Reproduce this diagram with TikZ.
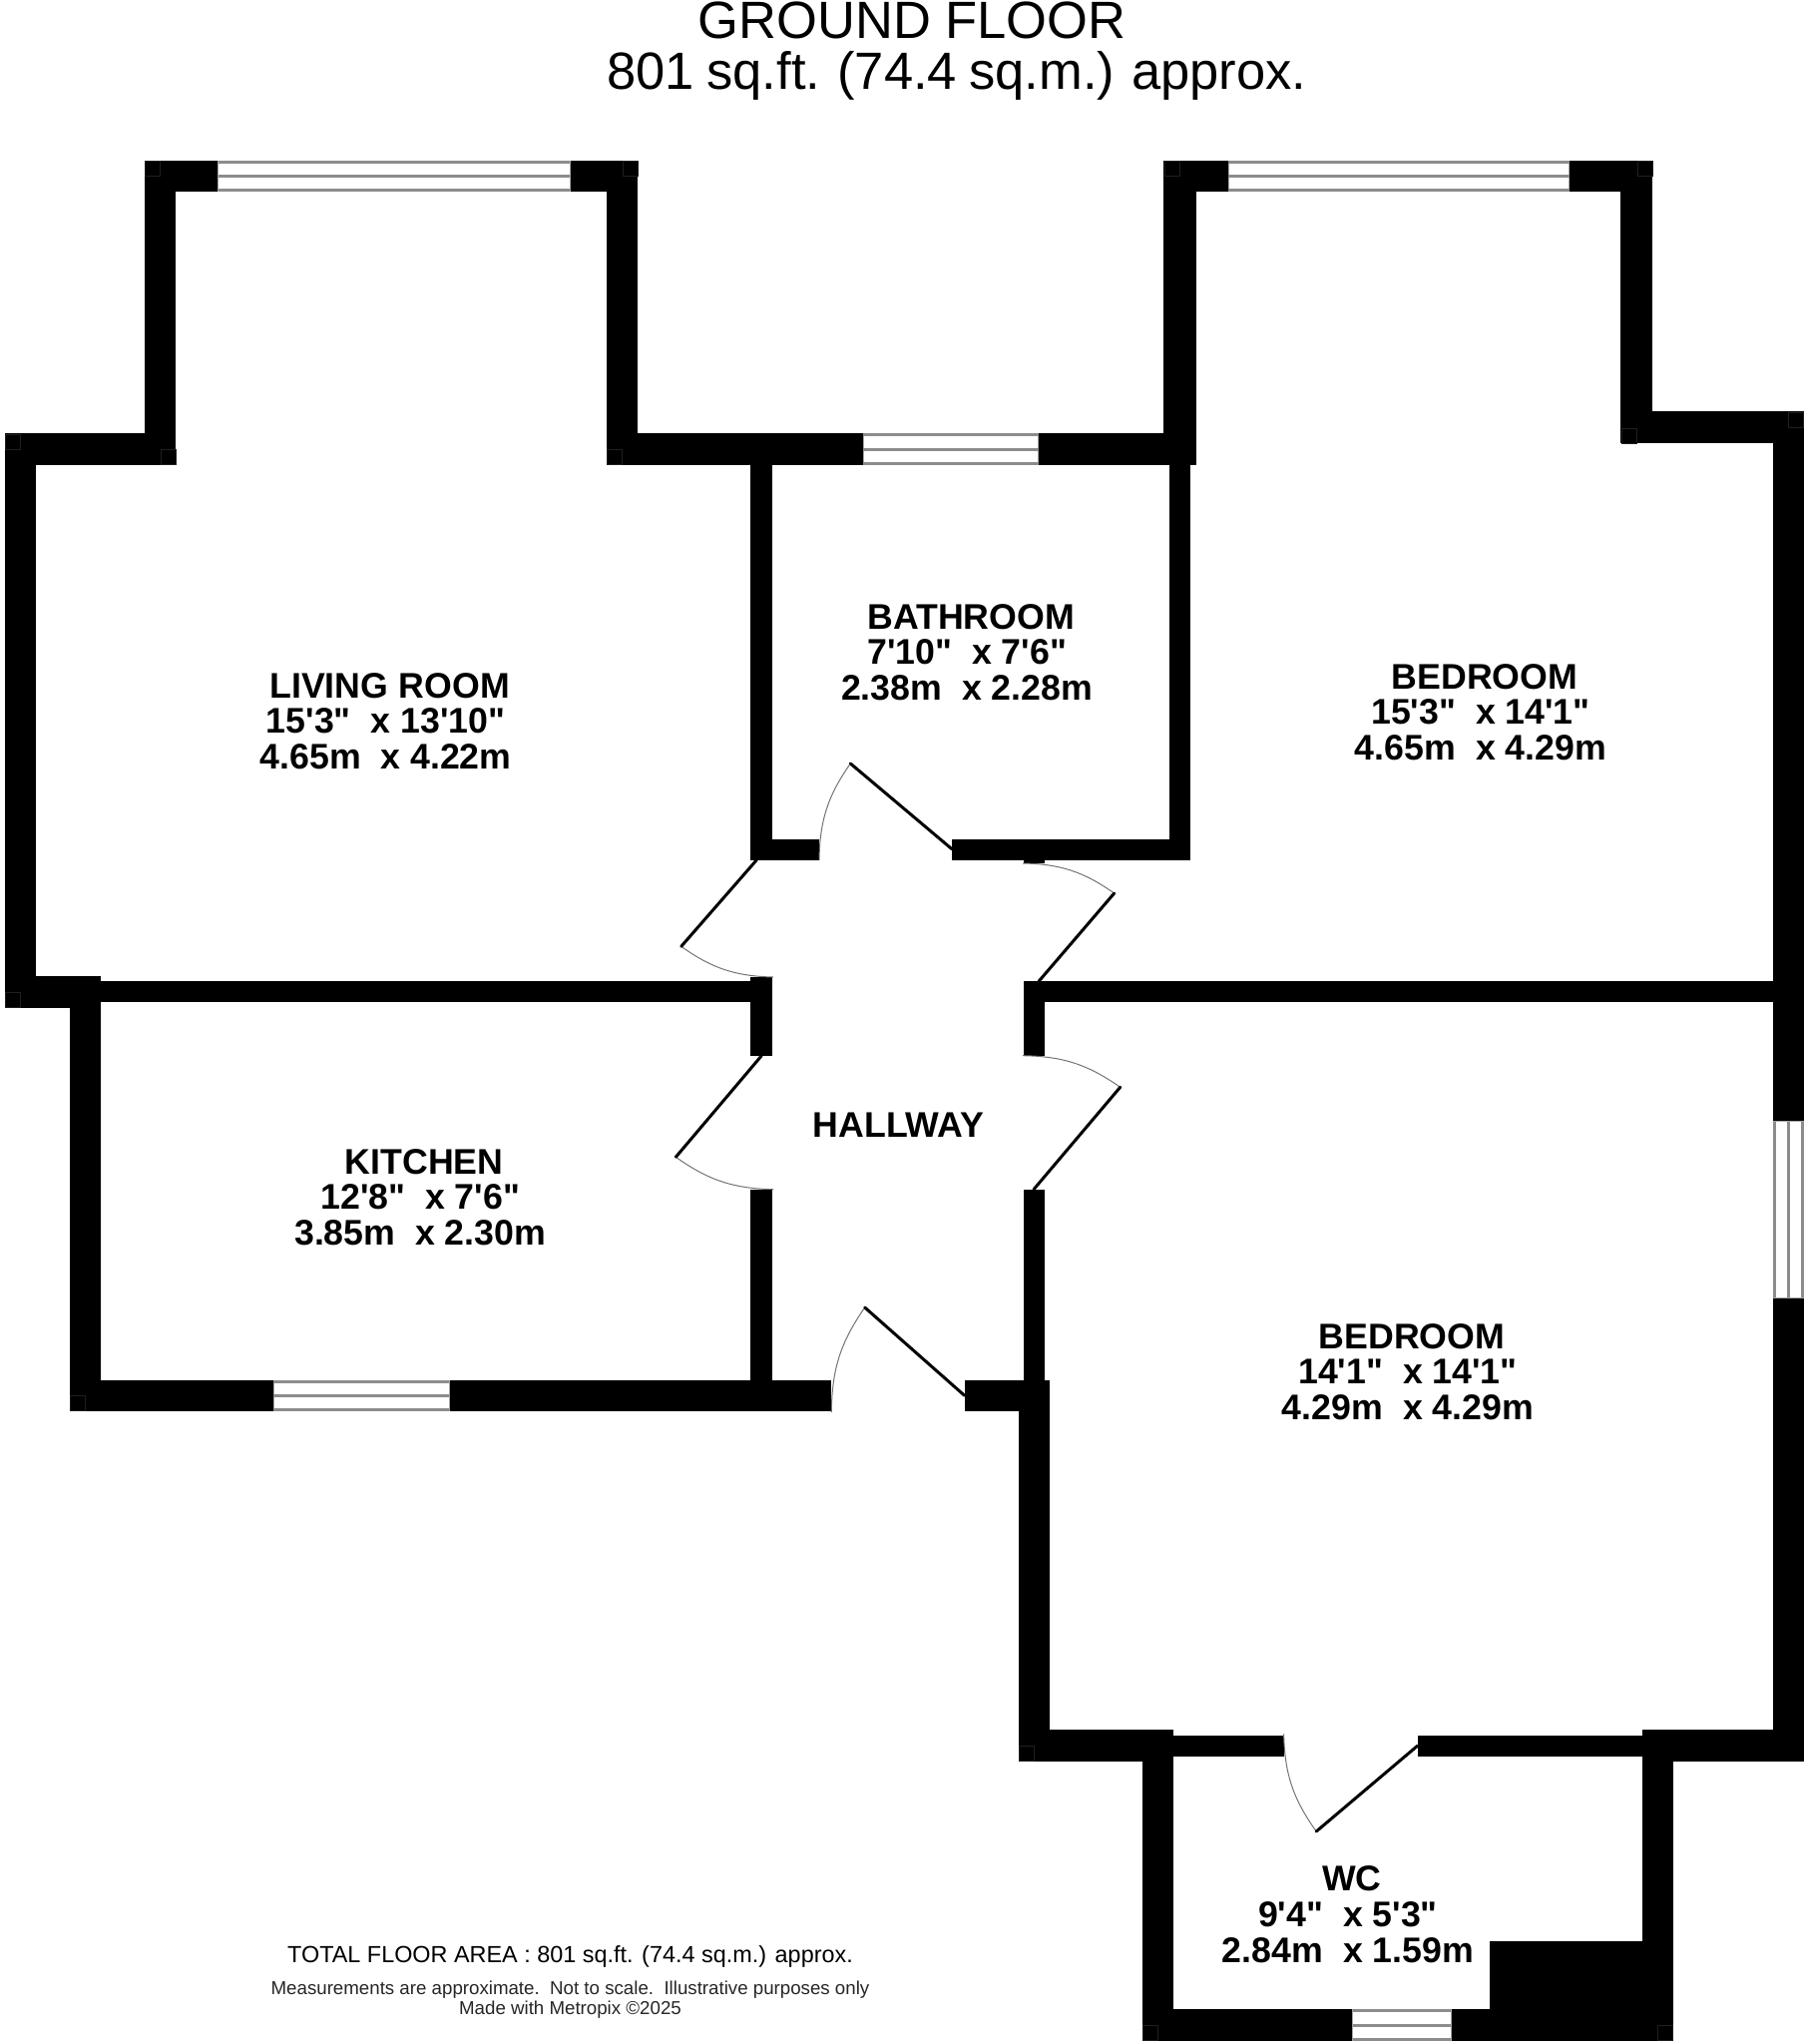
\documentclass[tikz,border=0pt]{standalone}
\usepackage{fontspec}
\newfontfamily\planfont{Liberation Sans}
\newcommand{\roomtext}[3]{\spaceskip=.29em\hspace*{8pt}#1\\[-1.3pt]#2\\#3}
\tikzset{
 wall/.style={fill=black},
 cornermark/.style={draw=black!88, line width=.6pt},
 glass/.style={draw=black!45, line width=3pt},
 glassend/.style={draw=black!35, line width=1pt},
 leaf/.style={draw=black, line width=3pt, line cap=round},
 swing/.style={draw=black!55, line width=1pt},
 roomlabel/.style={font=\planfont\bfseries\fontsize{35.7}{36.5}\selectfont, align=center, inner sep=0pt},
 titletext/.style={font=\planfont\fontsize{52.5}{52.5}\selectfont, anchor=base, inner sep=0pt},
 totaltext/.style={font=\planfont\fontsize{23.4}{24}\selectfont, anchor=base, inner sep=0pt},
 notetext/.style={font=\planfont\fontsize{18.7}{19}\selectfont, anchor=base, inner sep=0pt, text=black!85}
}
\begin{document}
\begin{tikzpicture}[x=1pt, y=-1pt]
 \useasboundingbox (0,0) rectangle (1809,2048);
 % walls
 \foreach \xa/\ya/\xb/\yb in {
  144.6/160.7/176/465.7, 144.6/160.7/218.8/192.3, 571.4/160.7/639/192.3, 607.6/160.7/639/465.7,
  4.6/434.3/176/465.7, 4.6/434.3/36.2/1010, 4.6/978.3/101.3/1010, 70/978.3/101.3/1414,
  101/983.3/752.3/1004.3, 70/1382.7/274.3/1414, 450/1382.7/833.3/1414,
  752.3/434.3/773.7/861.7, 752.3/840.7/821/861.7, 752.3/979/773.7/1057.7, 752.3/1191.7/773.7/1383,
  607.6/434.3/865/465.7, 1040.7/434.3/1198.5/465.7,
  1166.4/160.5/1198.5/465.7, 1166.4/160.5/1231.2/192.3, 1572.6/160.5/1656/192.3, 1624.3/160.5/1656/444.3,
  1624.3/412.3/1807.8/444.3, 1776.5/412.3/1807.8/1123.7, 1776.5/1300/1807.8/1765,
  1172/465/1193.3/861.7, 954.3/840.7/1193.3/861.7, 1026/840.7/1047/865,
  1026/983.3/1047/1057.7, 1026/983.3/1777/1004.3, 1026/1191.7/1047/1383,
  966.7/1382.7/1052.3/1414, 1020.7/1382.7/1052.3/1765, 1020.7/1733.3/1176.3/1765,
  1176/1738.7/1286.6/1760, 1420.5/1738.7/1646/1760, 1646/1733.3/1807.8/1765,
  1145/1733.3/1176.3/2045, 1646/1733.3/1676.8/2045, 1145/2013.3/1355.8/2045, 1454/2013.3/1676.8/2045,
  1493.3/1945/1646/2013.3}
 {
     \fill[wall] (\xa,\ya) rectangle (\xb,\yb);
 }
 % small squares at the corners
 \foreach \x/\y in {144.6/160.7, 623.4/160.7, 4.6/434.3, 160.3/450, 607.6/450, 1166.4/160.5, 1640.3/160.5,
  1624.3/428.3, 1791.8/412.3, 4.6/994, 70/1398, 1145/2029, 1660.8/2029, 1020.7/1749}
 {
     \draw[cornermark] (\x+.5,\y+.5) rectangle ++(15,15);
 }
 % windows
 \foreach \xa/\xb/\ya/\yb in {218.8/571.4/160.7/192.3, 1231.2/1572.6/160.5/192.3, 865/1040.7/434.3/465.7,
  274.3/450/1382.7/1414, 1355.8/1454/2013.3/2045}
 {
     \draw[glassend] (\xa,\ya) -- (\xa,\yb) (\xb,\ya) -- (\xb,\yb);
     \draw[glass] (\xa,\ya+1.5) -- (\xb,\ya+1.5);
     \draw[glass] (\xa,\ya/2+\yb/2) -- (\xb,\ya/2+\yb/2);
     \draw[glass] (\xa,\yb-1.5) -- (\xb,\yb-1.5);
 }
 \draw[glassend] (1776.5,1123.7) -- (1807.8,1123.7) (1776.5,1300) -- (1807.8,1300);
 \foreach \x in {1778,1792.2,1806.3}
 {
     \draw[glass] (\x,1123.7) -- (\x,1300);
 }
 % doors
 \foreach \hx/\hy/\tx/\ty/\cx/\cy/\sw in {
  954/850.7/852.3/765/821/861.7/right,
  758.3/861.7/682.7/948.3/775/979/right,
  1041/983.3/1116.7/895/1025/865/right,
  763.3/1057.7/677.3/1159.3/775/1191.7/right,
  1036/1191.7/1122.7/1089.3/1025/1057.7/right,
  966.7/1398.3/866.7/1310/833.3/1415/right,
  1420.5/1749.3/1319.2/1835/1286.6/1737.3/left}
 {
     \coordinate (hinge) at (\hx,\hy);
     \coordinate (tip) at (\tx,\ty);
     \coordinate (shut) at (\cx,\cy);
     \draw[swing] (tip) to[bend \sw=17] (shut);
     \draw[leaf] (hinge) -- (tip);
 }
 % texts
 \node[titletext] (title) at (914,38.3) {GROUND FLOOR};
 \node[titletext] (area) at (959,89.3) {\spaceskip=.234em 801 sq.ft. (74.4 sq.m.) approx.};
 \node[roomlabel] (living) at (386.6,722.6) {\roomtext{LIVING ROOM}{15'3"\ \ x 13'10"}{4.65m\ \ x 4.22m}};
 \node[roomlabel] (kitchen) at (421.2,1199.6) {\roomtext{KITCHEN}{12'8"\ \ x 7'6"}{3.85m\ \ x 2.30m}};
 \node[roomlabel] (bathroom) at (969.1,653.6) {\roomtext{BATHROOM}{7'10"\ \ x 7'6"}{2.38m\ \ x 2.28m}};
 \node[roomlabel] (bedroomone) at (1484,713.6) {\roomtext{BEDROOM}{15'3"\ \ x 14'1"}{4.65m\ \ x 4.29m}};
 \node[roomlabel] (bedroomtwo) at (1411,1374.6) {\roomtext{BEDROOM}{14'1"\ \ x 14'1"}{4.29m\ \ x 4.29m}};
 \node[roomlabel] (wc) at (1351,1918.4) {\roomtext{WC}{9'4"\ \ x 5'3"}{2.84m\ \ x 1.59m}};
 \node[roomlabel] (hallway) at (900.4,1127) {HALLWAY};
 \node[totaltext] (total) at (571.5,1966.7) {TOTAL FLOOR AREA : 801 sq.ft. (74.4 sq.m.) approx.};
 \node[notetext] (note) at (571.5,1998) {Measurements are approximate.\ \ Not to scale.\ \ Illustrative purposes only};
 \node[notetext] (made) at (571.5,2018) {Made with Metropix ©2025};
\end{tikzpicture}
\end{document}
